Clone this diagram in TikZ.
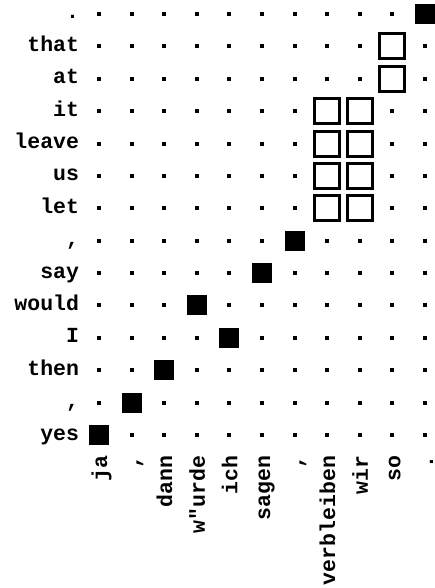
\documentclass[tikz,border=0pt]{standalone}
\usepackage{fontspec}
\setmonofont{Liberation Mono}
\begin{document}
\begin{tikzpicture}[x=1pt,y=-1pt,
  lbl/.style={font=\ttfamily\bfseries\fontsize{21.5}{22}\selectfont, inner sep=0pt, outer sep=0pt},
  rowlbl/.style={lbl, anchor=base east},
  collbl/.style={lbl, anchor=base east, rotate=90},
  dotcell/.style={rectangle, fill=black, draw=none, minimum size=4pt, inner sep=0pt},
  fullcell/.style={rectangle, fill=black, draw=none, minimum size=20pt, inner sep=0pt},
  opencell/.style={rectangle, draw=black, fill=white, line width=3pt, minimum size=25pt, inner sep=0pt}
]
\useasboundingbox (0,0) rectangle (435,588);
% grid of small dots
\foreach \c in {0,...,10}{
  \foreach \r in {0,...,13}{
    \node[dotcell] (d-\c-\r) at ({99+32.6*\c},{14+32.385*\r}) {};
  }
}
% sure alignments (filled)
\foreach \c/\r in {0/13,1/12,2/11,3/9,4/10,5/8,6/7,10/0}{
  \node[fullcell] (f-\c-\r) at (d-\c-\r) {};
}
% possible alignments (open)
\foreach \c/\r in {9/1,9/2,7/3,8/3,7/4,8/4,7/5,8/5,7/6,8/6}{
  \node[opencell] (o-\c-\r) at (d-\c-\r) {};
}
% row labels (English)
\foreach \w [count=\i from 0] in {.,that,at,it,leave,us,let,{,},say,would,I,then,{,},yes}{
  \node[rowlbl] (r-\i) at (79,{19+32.385*\i}) {\w};
}
% column labels (German)
\foreach \w [count=\i from 0] in {ja,{,},dann,w"urde,ich,sagen,{,},verbleiben,wir,so,.}{
  \node[collbl] (cl-\i) at ({107+32.6*\i},456) {\w};
}
\end{tikzpicture}
\end{document}
